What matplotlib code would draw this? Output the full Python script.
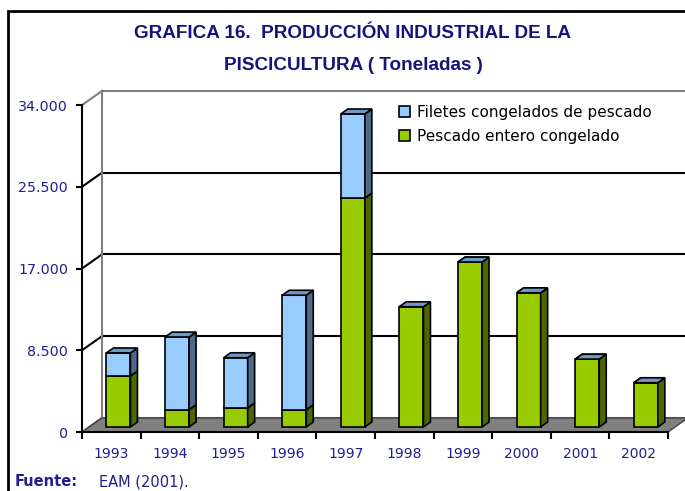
"""
Grafica 16 - Produccion industrial de la piscicultura (barras apiladas 3D estilo Excel).
"""

import matplotlib
matplotlib.use('Agg')
import matplotlib.pyplot as plt
from matplotlib.patches import Polygon, Rectangle, Patch

# Datos (toneladas)
anios = ['1993', '1994', '1995', '1996', '1997', '1998', '1999', '2000', '2001', '2002']
pescado_entero = [5300, 1800, 2000, 1800, 23800, 12500, 17150, 13950, 7050, 4600]
filetes = [2400, 7550, 5200, 11900, 8750, 0, 0, 0, 0, 0]
ticks_y = [0, 8500, 17000, 25500, 34000]
etiquetas_y = ['0', '8.500', '17.000', '25.500', '34.000']
series = ['Filetes congelados de pescado', 'Pescado entero congelado']

# Colores
AZUL_TXT = '#1F1F8F'
VERDE = ('#99CC00', '#4D6600', '#6E9ACB')      # frente, lado, tapa
AZUL = ('#99CCFF', '#4D6A8A', '#6E9ACB')
GRIS_PISO = '#808080'

# Profundidad 3D (en unidades de datos)
DX, DY = 0.34, 1460
F0, F1 = 0.36, 0.71   # profundidad de las barras
ANCHO = 0.41

fig = plt.figure(figsize=(6.85, 4.91), dpi=100)
W, H = 685, 491
ax = fig.add_axes([82 / W, (491 - 432) / H, 609.4 / W, 346.2 / H])
ax.set_xlim(0, 10.4)
ax.set_ylim(0, 36000)

def p(x, v, f):
    return (x + f * DX, v + f * DY)

n = len(anios)

# Piso
ax.add_patch(Polygon([p(0, 0, 0), p(n, 0, 0), p(n, 0, 1), p(0, 0, 1)],
                     closed=True, facecolor=GRIS_PISO, edgecolor='#404040', lw=1, zorder=1))

# Pared izquierda y lineas de cuadricula
for v in ticks_y:
    c = '#808080' if v in (0, ticks_y[-1]) else 'black'
    ax.plot([DX, n + 1], [v + DY, v + DY], color=c, lw=1.5, zorder=0.5)
    ax.plot([0, DX], [v, v + DY], color=c, lw=1.5, zorder=0.6)
ax.plot([DX, DX], [DY, ticks_y[-1] + DY], color='#808080', lw=1.5, zorder=0.6)

# Barras
def barra(i, base, alto, col):
    x0 = i + 0.5 - ANCHO / 2
    x1 = i + 0.5 + ANCHO / 2
    top = base + alto
    kw = dict(closed=True, edgecolor='black', lw=1.2, zorder=3 + i * 0.01)
    if alto > 0:
        ax.add_patch(Polygon([p(x0, base, F0), p(x1, base, F0), p(x1, top, F0), p(x0, top, F0)],
                             facecolor=col[0], **kw))
        ax.add_patch(Polygon([p(x1, base, F0), p(x1, base, F1), p(x1, top, F1), p(x1, top, F0)],
                             facecolor=col[1], **kw))
    ax.add_patch(Polygon([p(x0, top, F0), p(x1, top, F0), p(x1, top, F1), p(x0, top, F1)],
                         facecolor=col[2], **kw))

for i in range(n):
    barra(i, 0, pescado_entero[i], VERDE)
    barra(i, pescado_entero[i], filetes[i], AZUL)

# Ejes
for s in ['top', 'right']:
    ax.spines[s].set_visible(False)
ax.spines['left'].set_bounds(0, ticks_y[-1])
ax.spines['bottom'].set_bounds(0, n)
ax.spines['left'].set_linewidth(1.5)
ax.spines['bottom'].set_linewidth(1.5)
ax.set_yticks(ticks_y)
ax.set_yticklabels(etiquetas_y)
ax.tick_params(axis='y', direction='out', length=4, width=1.5, pad=6,
               labelsize=10.3, labelcolor=AZUL_TXT)
ax.set_xticks(range(n + 1))
ax.set_xticklabels([])
ax.set_xticks([i + 0.5 for i in range(n)], minor=True)
ax.set_xticklabels(anios, minor=True)
ax.tick_params(axis='x', which='major', direction='out', length=5, width=1.5)
ax.tick_params(axis='x', which='minor', length=0, pad=11, labelsize=10, labelcolor=AZUL_TXT)
ax.patch.set_visible(False)

# Leyenda
handles = [Patch(facecolor=AZUL[0], edgecolor='black', lw=1.2),
           Patch(facecolor=VERDE[0], edgecolor='black', lw=1.2)]
fig.legend(handles, series, loc='upper left', bbox_to_anchor=(399 / W, 1 - 105 / H),
           frameon=False, fontsize=11, handlelength=0.75, handleheight=0.75,
           handletextpad=0.45, labelspacing=0.6, borderpad=0, borderaxespad=0)

# Titulo
fuente_titulo = ['Liberation Sans', 'DejaVu Sans']
fig.text(353 / W, 1 - 33 / H, 'GRAFICA 16.  PRODUCCIÓN INDUSTRIAL DE LA', ha='center', va='center',
         fontsize=13.6, fontweight='bold', color='#14147A', family=fuente_titulo)
fig.text(353 / W, 1 - 65 / H, 'PISCICULTURA ( Toneladas )', ha='center', va='center',
         fontsize=13.6, fontweight='bold', color='#14147A', family=fuente_titulo)

# Fuente
fig.text(15 / W, 1 - 482 / H, 'Fuente:', ha='left', va='center', fontsize=10.5,
         fontweight='bold', color=AZUL_TXT)
fig.text(99 / W, 1 - 482 / H, 'EAM (2001).', ha='left', va='center', fontsize=10.5, color=AZUL_TXT)

# Borde del grafico
fig.patches.append(Rectangle((8 / W, -0.2), 1.5, (491 - 11) / H + 0.2, transform=fig.transFigure,
                             fill=False, edgecolor='black', lw=2))

fig.savefig('out.png', dpi=100)
